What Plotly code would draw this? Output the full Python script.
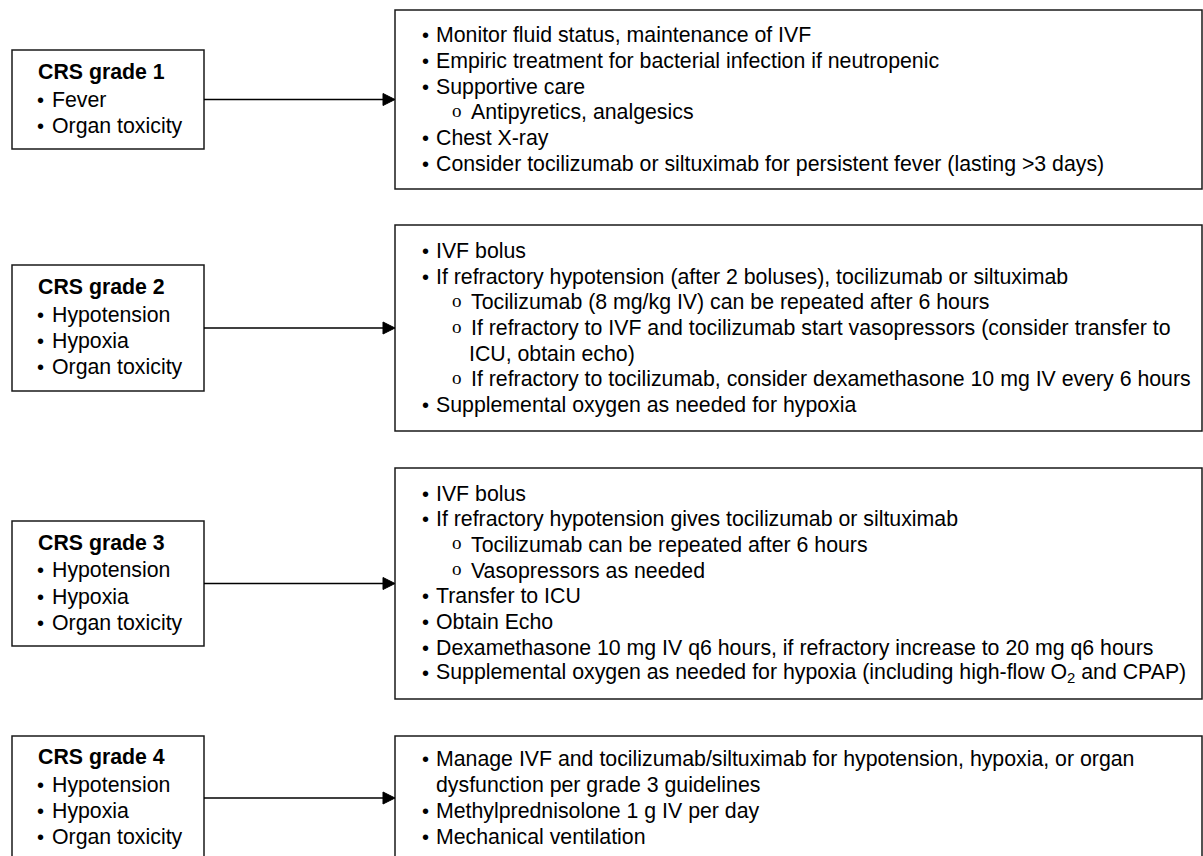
import plotly.graph_objects as go

# ---------------- data (text content) ----------------
grades = ["CRS grade 1", "CRS grade 2", "CRS grade 3", "CRS grade 4"]
symptoms_g1 = ["Fever", "Organ toxicity"]
symptoms_g2 = ["Hypotension", "Hypoxia", "Organ toxicity"]
symptoms_g3 = ["Hypotension", "Hypoxia", "Organ toxicity"]
symptoms_g4 = ["Hypotension", "Hypoxia", "Organ toxicity"]

# level: 0 = bullet, 1 = sub-bullet, "c0"/"c1" = wrapped continuation line
treat_g1 = [
    (0, "Monitor fluid status, maintenance of IVF"),
    (0, "Empiric treatment for bacterial infection if neutropenic"),
    (0, "Supportive care"),
    (1, "Antipyretics, analgesics"),
    (0, "Chest X-ray"),
    (0, "Consider tocilizumab or siltuximab for persistent fever (lasting >3 days)"),
]
treat_g2 = [
    (0, "IVF bolus"),
    (0, "If refractory hypotension (after 2 boluses), tocilizumab or siltuximab"),
    (1, "Tocilizumab (8 mg/kg IV) can be repeated after 6 hours"),
    (1, "If refractory to IVF and tocilizumab start vasopressors (consider transfer to"),
    ("c1", "ICU, obtain echo)"),
    (1, "If refractory to tocilizumab, consider dexamethasone 10 mg IV every 6 hours"),
    (0, "Supplemental oxygen as needed for hypoxia"),
]
treat_g3 = [
    (0, "IVF bolus"),
    (0, "If refractory hypotension gives tocilizumab or siltuximab"),
    (1, "Tocilizumab can be repeated after 6 hours"),
    (1, "Vasopressors as needed"),
    (0, "Transfer to ICU"),
    (0, "Obtain Echo"),
    (0, "Dexamethasone 10 mg IV q6 hours, if refractory increase to 20 mg q6 hours"),
    (0, "Supplemental oxygen as needed for hypoxia (including high-flow O<sub>2</sub> and CPAP)"),
]
treat_g4 = [
    (0, "Manage IVF and tocilizumab/siltuximab for hypotension, hypoxia, or organ"),
    ("c0", "dysfunction per grade 3 guidelines"),
    (0, "Methylprednisolone 1 g IV per day"),
    (0, "Mechanical ventilation"),
]
symptoms = [symptoms_g1, symptoms_g2, symptoms_g3, symptoms_g4]
treatments = [treat_g1, treat_g2, treat_g3, treat_g4]

# ---------------- layout constants ----------------
W, H = 1203, 856
LEFT_X0, LEFT_X1 = 12, 204
RIGHT_X0, RIGHT_X1 = 395, 1202
left_tops = [50, 265, 521, 736]
left_bottoms = [149, 391, 646, 860]
right_tops = [10, 225, 468, 736]
right_bottoms = [189, 431, 699, 860]

FONT = "Arial, Liberation Sans, sans-serif"
FS = 21.3
LINE_R = 25.7
LINE_L = 26.3
LINE_COLOR = "#1a1a1a"
HEAD_L, HEAD_HW = 12, 6

shapes = []
annotations = []

def txt(x, y, s, size=FS, family=FONT, bold=False, yshift=0, xanchor="left"):
    annotations.append(dict(
        x=x, y=y, xref="x", yref="y", text=f"<b>{s}</b>" if bold else s,
        showarrow=False, xanchor=xanchor, yanchor="middle", align="left",
        font=dict(family=family, size=size, color="#000000"), yshift=yshift))

for i in range(len(grades)):
    # left box
    shapes.append(dict(type="rect", xref="x", yref="y", x0=LEFT_X0, x1=LEFT_X1,
                       y0=left_tops[i], y1=left_bottoms[i],
                       line=dict(color=LINE_COLOR, width=1.5), fillcolor="rgba(0,0,0,0)"))
    # right box
    shapes.append(dict(type="rect", xref="x", yref="y", x0=RIGHT_X0, x1=RIGHT_X1,
                       y0=right_tops[i], y1=right_bottoms[i],
                       line=dict(color=LINE_COLOR, width=1.5), fillcolor="rgba(0,0,0,0)"))
    # arrow: line + filled head
    yc = (left_tops[i] + left_bottoms[i]) / 2
    shapes.append(dict(type="line", xref="x", yref="y", x0=LEFT_X1, x1=RIGHT_X0 - HEAD_L + 1,
                       y0=yc, y1=yc, line=dict(color="#000000", width=1.5)))
    shapes.append(dict(type="path", xref="x", yref="y",
                       path=f"M {RIGHT_X0 - HEAD_L},{yc - HEAD_HW} L {RIGHT_X0},{yc} L {RIGHT_X0 - HEAD_L},{yc + HEAD_HW} Z",
                       fillcolor="#000000", line=dict(color="#000000", width=1)))
    # left text
    lines = [grades[i]] + symptoms[i]
    n = len(lines)
    lc = (left_tops[i] + left_bottoms[i]) / 2
    for j, s in enumerate(lines):
        y = lc + (j - (n - 1) / 2) * LINE_L
        if j == 0:
            y -= 1.5
            txt(36, y, s, bold=True)
        else:
            txt(40, y, "•", size=20, xanchor="center")
            txt(50, y, s)
    # right text
    items = treatments[i]
    n = len(items)
    rc = (right_tops[i] + right_bottoms[i]) / 2
    for j, (lvl, s) in enumerate(items):
        y = rc + (j - (n - 1) / 2) * LINE_R
        if lvl == 0:
            txt(425, y, "•", size=20, xanchor="center")
            txt(434, y, s)
        elif lvl == 1:
            txt(457, y, "o", size=19, family="Liberation Serif, Times New Roman, serif",
                yshift=2, xanchor="center")
            txt(469, y, s)
        elif lvl == "c0":
            txt(434, y, s)
        else:
            txt(467, y, s)

fig = go.Figure()
fig.update_layout(
    width=W, height=H, margin=dict(l=0, r=0, t=0, b=0),
    paper_bgcolor="white", plot_bgcolor="white",
    xaxis=dict(range=[0, W], visible=False, fixedrange=True),
    yaxis=dict(range=[H, 0], visible=False, fixedrange=True),
    shapes=shapes, annotations=annotations, showlegend=False,
)
fig.write_html("out.html", config={"displayModeBar": False, "staticPlot": True},
               post_script="document.body.style.margin='0';document.body.style.overflow='hidden';")
